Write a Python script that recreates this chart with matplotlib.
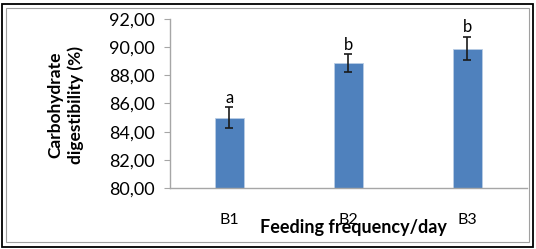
import matplotlib.pyplot as plt
from matplotlib.patches import Rectangle

# values
groups = ["B1", "B2", "B3"]
digestibility = [85.0, 88.85, 89.9]
sd = [0.75, 0.65, 0.85]
letters = ["a", "b", "b"]
yticks = [80, 82, 84, 86, 88, 90, 92]
ytick_labels = ["80,00", "82,00", "84,00", "86,00", "88,00", "90,00", "92,00"]

plt.rcParams['font.family'] = ['Lato', 'DejaVu Sans']

fig = plt.figure(figsize=(5.36, 2.49), dpi=100)
ax = fig.add_axes([0.317, 0.245, 0.666, 0.679])

x = range(len(groups))
ax.bar(x, digestibility, width=0.245, color="#4F81BD", edgecolor="#B9CDE5", linewidth=0.6,
       yerr=sd, capsize=3, error_kw=dict(ecolor="#1a1a1a", elinewidth=1.2, capthick=1.2))

for i in x:
    ax.text(i, digestibility[i] + sd[i] + 0.1, letters[i], ha="center", va="bottom", fontsize=12)

ax.set_xlim(-0.5, 2.5)
ax.set_ylim(80, 92)
ax.set_yticks(yticks)
ax.set_yticklabels(ytick_labels)
ax.set_xticks(list(x))
ax.set_xticklabels(groups)

for s in ["top", "right"]:
    ax.spines[s].set_visible(False)
for s in ["left", "bottom"]:
    ax.spines[s].set_color("#a6a6a6")
    ax.spines[s].set_linewidth(1)
ax.tick_params(axis="y", length=4, color="#a6a6a6", pad=7, labelsize=13)
ax.tick_params(axis="x", length=0, pad=18, labelsize=11.5)

fig.text(0.122, 0.58, "Carbohydrate\ndigestibility (%)", rotation=90, ha="center", va="center",
         fontsize=12.5, fontweight="bold", linespacing=1.3)
fig.text(0.66, 0.085, "Feeding frequency/day", ha="center", va="center",
         fontsize=13, fontweight="bold")

# double border around the image
fig.patches.append(Rectangle((0.004, 0.01), 0.99, 0.975, transform=fig.transFigure,
                             fill=False, edgecolor="black", linewidth=1.3))
fig.patches.append(Rectangle((0.012, 0.028), 0.975, 0.94, transform=fig.transFigure,
                             fill=False, edgecolor="#a0a0a0", linewidth=0.8))

fig.savefig("out.png", dpi=100)
